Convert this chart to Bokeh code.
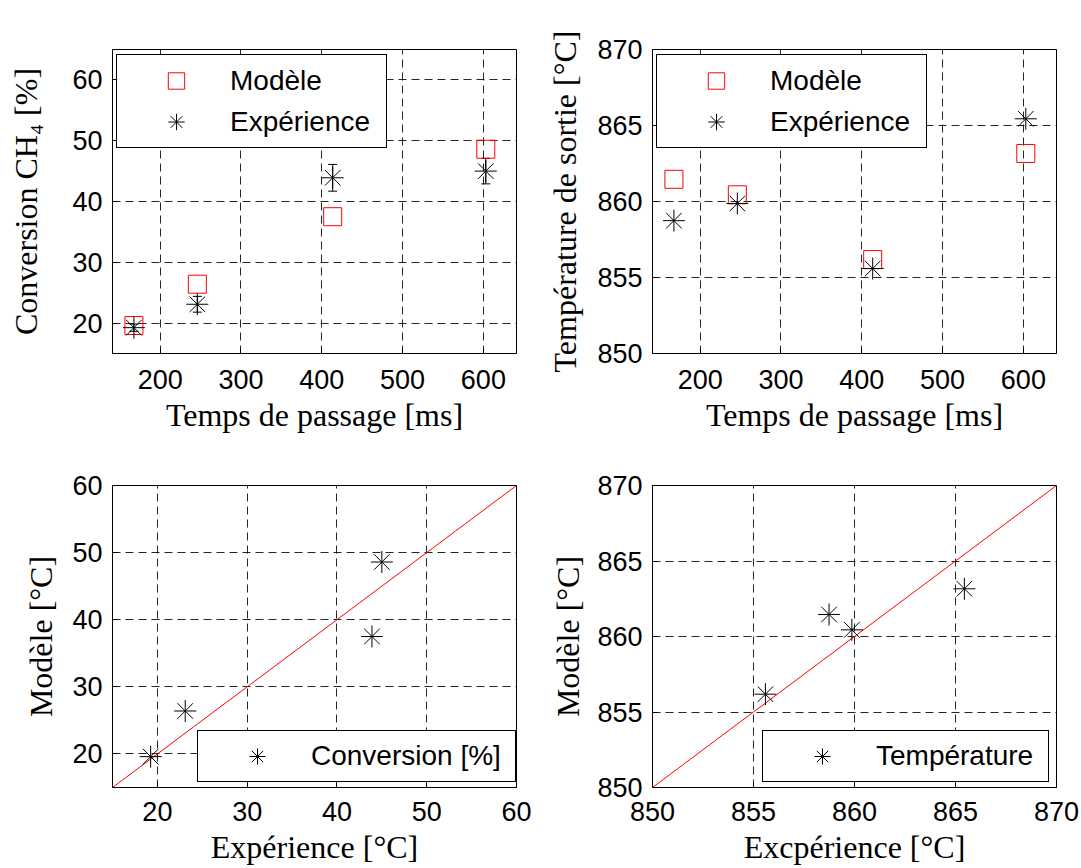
from bokeh.plotting import figure
from bokeh.layouts import column, row
from bokeh.models import (ColumnDataSource, Whisker, TeeHead, Legend, LegendItem,
                          FixedTicker, Range1d)
from bokeh.embed import file_html
from bokeh.resources import INLINE

# ---------------- data ----------------
tau_ms = [167.5, 246.0, 413.5, 603.0]          # Temps de passage [ms]
conv_model = [19.6, 26.4, 37.5, 48.6]           # Conversion CH4 [%] - Modèle
conv_exp = [19.25, 23.1, 43.9, 45.0]            # Conversion CH4 [%] - Expérience
conv_err = [0.6, 1.3, 2.2, 2.1]                 # error bar half-height
temp_model = [861.46, 860.44, 856.18, 863.16]   # Température de sortie [°C] - Modèle
temp_exp = [858.74, 859.87, 855.59, 865.44]     # Température de sortie [°C] - Expérience

tau_ticks = [200, 300, 400, 500, 600]
conv_ticks = [20, 30, 40, 50, 60]
temp_ticks = [850, 855, 860, 865, 870]
tau_range = [141, 641]
conv_range_top = [15, 65]
conv_range = [15, 60]
temp_range = [850, 870]
diag_conv = [15, 60]
diag_temp = [850, 870]

TICK_FONT = "Liberation Sans"
LABEL_FONT = "Liberation Serif"


def make_fig(w, h, bl, br, bt, bb, xr, yr, xt, yt, xlabel, ylabel,
             x_std, x_lstd, y_std, y_lstd):
    p = figure(width=w, height=h, x_range=Range1d(*xr), y_range=Range1d(*yr),
               output_backend="svg", toolbar_location=None,
               min_border_left=bl, min_border_right=br,
               min_border_top=bt, min_border_bottom=bb)
    p.outline_line_color = "black"
    p.outline_line_alpha = 1
    p.outline_line_width = 1
    p.background_fill_color = "white"
    p.border_fill_color = "white"
    specs = ((p.xaxis[0], p.xgrid[0], xt, xlabel, x_std, x_lstd),
             (p.yaxis[0], p.ygrid[0], yt, ylabel, y_std, y_lstd))
    for ax, gr, ticks, lab, std, lstd in specs:
        tk = FixedTicker(ticks=ticks)
        ax.ticker = tk
        gr.ticker = tk
        ax.axis_label = lab
        ax.axis_label_text_font = LABEL_FONT
        ax.axis_label_text_font_size = "32px"
        ax.axis_label_text_font_style = "normal"
        ax.axis_label_text_color = "black"
        ax.axis_label_standoff = lstd
        ax.major_label_standoff = std
        ax.major_label_text_font = TICK_FONT
        ax.major_label_text_font_size = "27px"
        ax.major_label_text_color = "black"
        ax.major_tick_in = 5
        ax.major_tick_out = 0
        ax.major_tick_line_color = "black"
        ax.minor_tick_line_color = None
        ax.axis_line_color = "black"
        gr.grid_line_color = "black"
        gr.grid_line_alpha = 0.85
        gr.grid_line_width = 1
        gr.grid_line_dash = "8 5"
    return p


def make_legend(items, loc, label_width, row_h=41):
    leg = Legend(items=items, location=loc, padding=5, spacing=0, margin=0,
                 glyph_width=108, glyph_height=row_h, label_height=row_h,
                 label_width=label_width, label_standoff=0,
                 border_line_color="black", border_line_width=1, border_line_alpha=1,
                 background_fill_color="white", background_fill_alpha=1,
                 label_text_font=TICK_FONT, label_text_font_size="28px",
                 label_text_color="black")
    return leg


# layout geometry (page origin at 0,0)
WL, WR = 532, 548
HT, HB = 435, 433

# ---------------- top-left: conversion vs residence time ----------------
p1 = make_fig(WL, HT, 112, 16, 49, 82, tau_range, conv_range_top, tau_ticks, conv_ticks,
              "Temps de passage [ms]", "Conversion CH\u2084 [%]", 16, 5, 10, 25)
src1 = ColumnDataSource(dict(x=tau_ms, y=conv_exp,
                             upper=[v + e for v, e in zip(conv_exp, conv_err)],
                             lower=[v - e for v, e in zip(conv_exp, conv_err)]))
p1.add_layout(Whisker(base="x", upper="upper", lower="lower", source=src1,
                      dimension="height", line_color="black", line_width=1,
                      upper_head=TeeHead(size=9, line_color="black", line_width=1),
                      lower_head=TeeHead(size=9, line_color="black", line_width=1)))
r1m = p1.scatter(tau_ms, conv_model, marker="square", size=18, fill_color=None,
                 line_color="red", line_width=1)
r1e = p1.scatter("x", "y", source=src1, marker="asterisk", size=22,
                 line_color="black", line_width=1)
p1.add_layout(make_legend([LegendItem(label="Modèle", renderers=[r1m]),
                           LegendItem(label="Expérience", renderers=[r1e])],
                          (4, 205), 151))

# ---------------- top-right: outlet temperature vs residence time ----------------
p2 = make_fig(WR, HT, 120, 24, 49, 82, tau_range, temp_range, tau_ticks, temp_ticks,
              "Temps de passage [ms]", "Température de sortie [°C]", 16, 5, 10, 11)
r2m = p2.scatter(tau_ms, temp_model, marker="square", size=18, fill_color=None,
                 line_color="red", line_width=1)
r2e = p2.scatter(tau_ms, temp_exp, marker="asterisk", size=22,
                 line_color="black", line_width=1)
p2.add_layout(make_legend([LegendItem(label="Modèle", renderers=[r2m]),
                           LegendItem(label="Expérience", renderers=[r2e])],
                          (4, 205), 151))

# ---------------- bottom-left: parity plot conversion ----------------
p3 = make_fig(WL, HB, 112, 16, 50, 81, conv_range, conv_range, conv_ticks, conv_ticks,
              "Expérience [°C]", "Modèle [°C]", 14, 5, 10, 10)
p3.line(diag_conv, diag_conv, line_color="red", line_width=1)
r3 = p3.scatter(conv_exp, conv_model, marker="asterisk", size=22,
                line_color="black", line_width=1)
p3.add_layout(make_legend([LegendItem(label="Conversion [%]", renderers=[r3])],
                          (85, 5), 199, 40))

# ---------------- bottom-right: parity plot temperature ----------------
p4 = make_fig(WR, HB, 120, 24, 50, 81, temp_range, temp_range, temp_ticks, temp_ticks,
              "Excpérience [°C]", "Modèle [°C]", 14, 5, 10, 8)
p4.line(diag_temp, diag_temp, line_color="red", line_width=1)
r4 = p4.scatter(temp_exp, temp_model, marker="asterisk", size=22,
                line_color="black", line_width=1)
p4.add_layout(make_legend([LegendItem(label="Température", renderers=[r4])],
                          (110, 5), 167, 40))

layout = column(row(p1, p2), row(p3, p4))

open("out.html", "w").write(file_html(layout, INLINE))
